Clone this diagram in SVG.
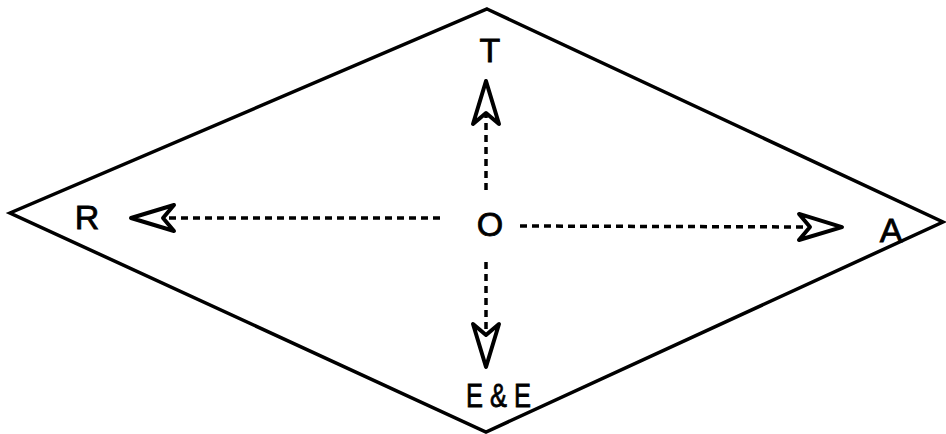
<svg xmlns="http://www.w3.org/2000/svg" width="946" height="434" viewBox="0 0 946 434">
<style>
.lbl{font-family:"Liberation Sans",Arial,sans-serif;font-size:34px;fill:#000;stroke:#000;stroke-width:0.8;text-anchor:middle}
.dash{stroke:#000;stroke-width:3.5;stroke-dasharray:7 5;fill:none}
</style>
<defs>
<marker id="head" viewBox="-3 -17 50 34" markerWidth="50" markerHeight="34" refX="11" refY="0" orient="auto" markerUnits="userSpaceOnUse" overflow="visible">
<path d="M0,-13 L43,0 L0,13 L11,0 Z" fill="#fff" stroke="#000" stroke-width="4" stroke-linejoin="round"/>
</marker>
</defs>
<g id="diamond"><polygon points="487,9 943,222 486,432 10,213" fill="none" stroke="#000" stroke-width="3.5"/></g>
<g id="connectors">
<line class="dash" x1="486" y1="190" x2="486" y2="113" marker-end="url(#head)"/>
<line class="dash" x1="440" y1="218" x2="163" y2="218" marker-end="url(#head)"/>
<line class="dash" x1="520" y1="226" x2="810" y2="227" marker-end="url(#head)"/>
<line class="dash" x1="486" y1="262" x2="486" y2="335" marker-end="url(#head)"/>
</g>
<g id="node-O"><text class="lbl" x="490" y="236">O</text></g>
<g id="node-T"><text class="lbl" x="490" y="62">T</text></g>
<g id="node-R"><text class="lbl" x="87" y="229">R</text></g>
<g id="node-A"><text class="lbl" x="891" y="242">A</text></g>
<g id="node-EE"><text class="lbl" x="466" y="407" style="text-anchor:start" textLength="65" lengthAdjust="spacingAndGlyphs">E &amp; E</text></g>
</svg>
